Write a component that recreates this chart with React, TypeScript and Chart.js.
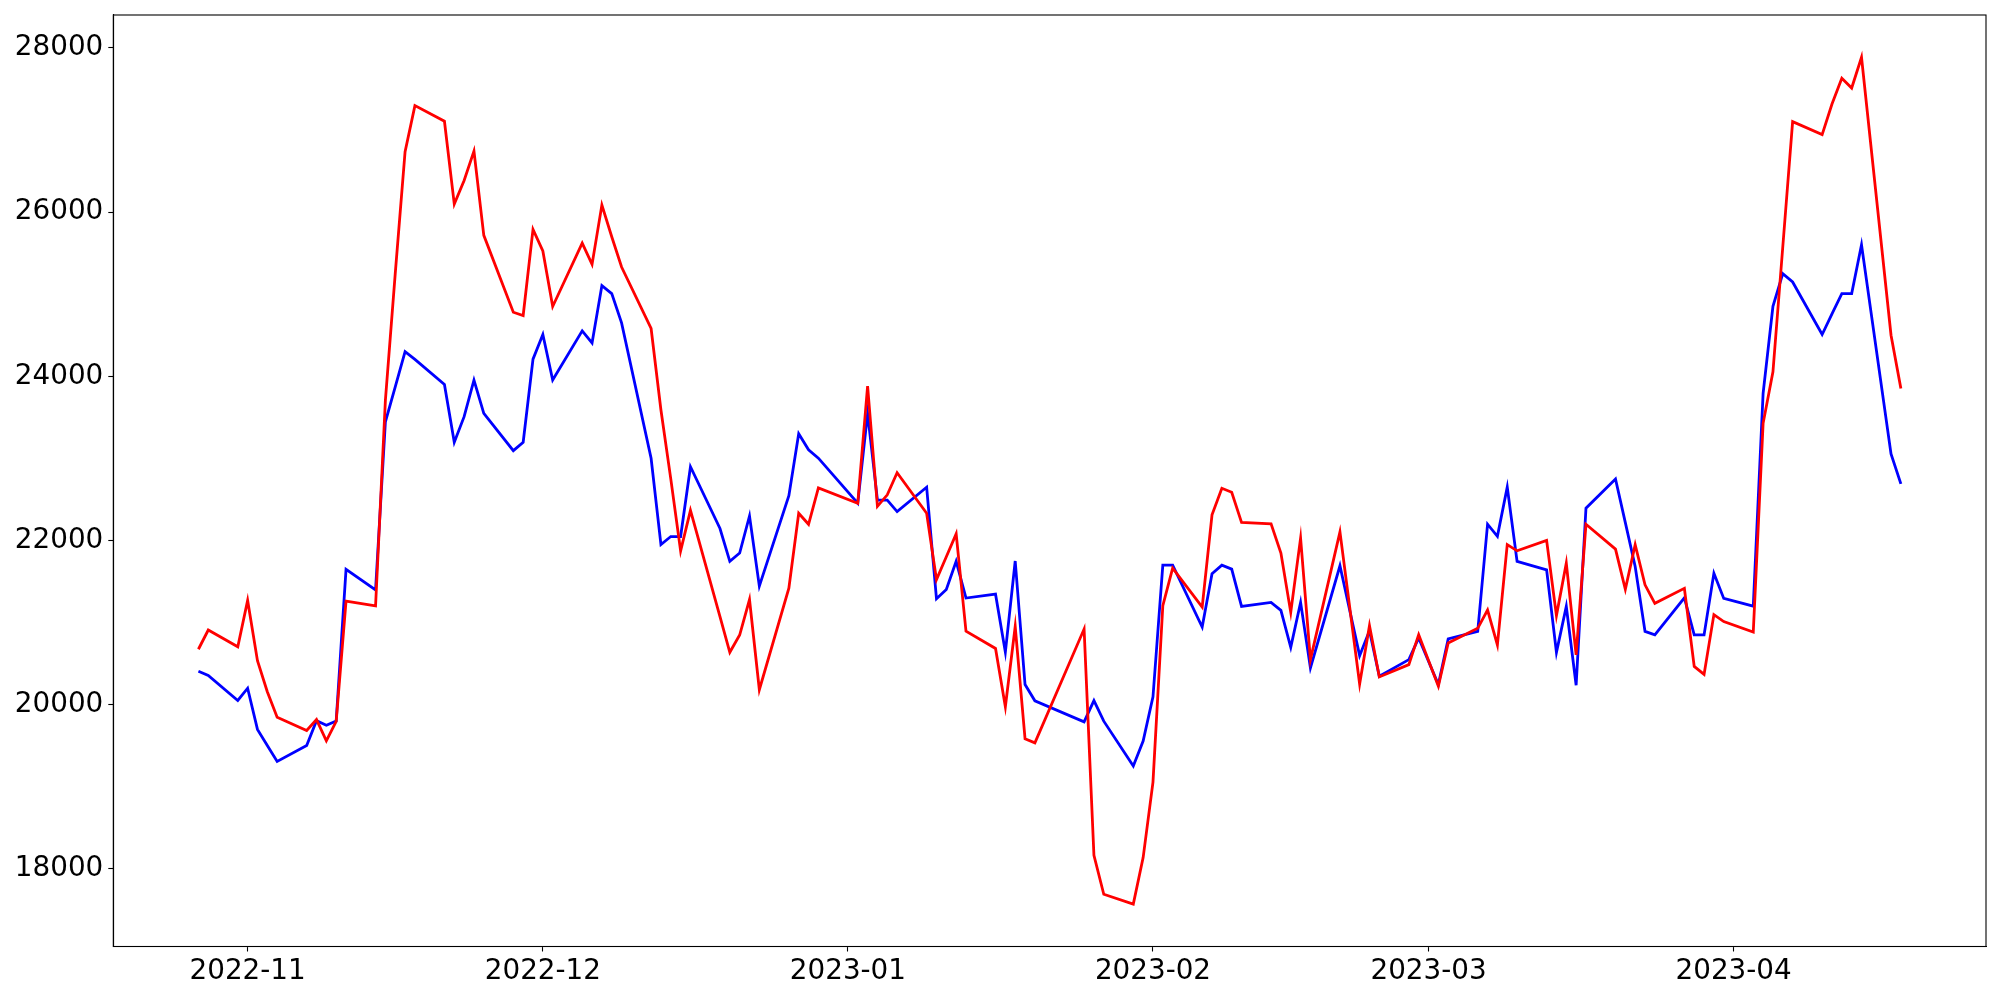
import React, { useEffect, useRef } from "react";
import { Chart, registerables } from "chart.js";

Chart.register(...registerables);

const dates: string[] = [
  "2022-10-27","2022-10-28","2022-10-31","2022-11-01","2022-11-02","2022-11-03","2022-11-04",
  "2022-11-07","2022-11-08","2022-11-09","2022-11-10","2022-11-11","2022-11-14","2022-11-15",
  "2022-11-16","2022-11-17","2022-11-18","2022-11-21","2022-11-22","2022-11-23","2022-11-24",
  "2022-11-25","2022-11-28","2022-11-29","2022-11-30","2022-12-01","2022-12-02","2022-12-05",
  "2022-12-06","2022-12-07","2022-12-08","2022-12-09","2022-12-12","2022-12-13","2022-12-14",
  "2022-12-15","2022-12-16","2022-12-19","2022-12-20","2022-12-21","2022-12-22","2022-12-23",
  "2022-12-26","2022-12-27","2022-12-28","2022-12-29","2023-01-02","2023-01-03","2023-01-04",
  "2023-01-05","2023-01-06","2023-01-09","2023-01-10","2023-01-11","2023-01-12","2023-01-13",
  "2023-01-16","2023-01-17","2023-01-18","2023-01-19","2023-01-20","2023-01-25","2023-01-26",
  "2023-01-27","2023-01-30","2023-01-31","2023-02-01","2023-02-02","2023-02-03","2023-02-06",
  "2023-02-07","2023-02-08","2023-02-09","2023-02-10","2023-02-13","2023-02-14","2023-02-15",
  "2023-02-16","2023-02-17","2023-02-20","2023-02-22","2023-02-23","2023-02-24","2023-02-27",
  "2023-02-28","2023-03-02","2023-03-03","2023-03-06","2023-03-07","2023-03-08","2023-03-09",
  "2023-03-10","2023-03-13","2023-03-14","2023-03-15","2023-03-16","2023-03-17","2023-03-20",
  "2023-03-21","2023-03-22","2023-03-23","2023-03-24","2023-03-27","2023-03-28","2023-03-29",
  "2023-03-30","2023-03-31","2023-04-03","2023-04-04","2023-04-05","2023-04-06","2023-04-07",
  "2023-04-10","2023-04-11","2023-04-12","2023-04-13","2023-04-14","2023-04-17","2023-04-18",
];

const redValues: number[] = [
  20675, 20909, 20705, 21270, 20535, 20157, 19847,
  19686, 19818, 19559, 19796, 21261, 21202, 23710,
  25250, 26735, 27297, 27107, 26098, 26385, 26742,
  25717, 24780, 24740, 25790, 25527, 24850, 25622,
  25363, 26085, 25700, 25331, 24582, 23589, 22750,
  21873, 22367, 21071, 20638, 20848, 21281, 20182,
  21420, 22332, 22197, 22640, 22453, 23881, 22416,
  22556, 22826, 22332, 21523, 21802, 22081, 20894,
  20685, 19975, 20952, 19584, 19535, 20921, 18165,
  17691, 17570, 18137, 19057, 21205, 21663, 21189,
  22312, 22636, 22588, 22219, 22203, 21846, 21124,
  22028, 20549, 22104, 20253, 20962, 20338, 20488,
  20853, 20225, 20752, 20930, 21153, 20728, 21950,
  21874, 22002, 21085, 21724, 20607, 22198, 21895,
  21405, 21950, 21460, 21234, 21417, 20466, 20368,
  21097, 21012, 20884, 23427, 24055, 25578, 27102,
  26944, 27317, 27629, 27511, 27885, 24500, 23852,
];

const blueValues: number[] = [
  20408, 20357, 20051, 20200, 19699, 19503, 19308,
  19503, 19805, 19750, 19801, 21648, 21397, 23446,
  23870, 24300, 24205, 23901, 23196, 23508, 23954,
  23548, 23094, 23196, 24209, 24509, 23954, 24553,
  24407, 25105, 25007, 24651, 23001, 21950, 22048,
  22048, 22898, 22146, 21745, 21847, 22298, 21444,
  22546, 23300, 23105, 23003, 22453, 23548, 22491,
  22491, 22351, 22649, 21290, 21402, 21746, 21299,
  21346, 20640, 21750, 20245, 20047, 19791, 20050,
  19799, 19252, 19556, 20095, 21700, 21700, 20946,
  21594, 21700, 21651, 21197, 21246, 21148, 20699,
  21246, 20447, 21692, 20597, 20901, 20346, 20549,
  20812, 20245, 20800, 20893, 22198, 22050, 22650,
  21746, 21643, 20637, 21196, 20236, 22394, 22749,
  22218, 21683, 20893, 20850, 21302, 20850, 20850,
  21601, 21294, 21200, 23791, 24853, 25250, 25149,
  24509, 24760, 25007, 25007, 25603, 23054, 22689,
];

const monthTicks: string[] = ["2022-11-01", "2022-12-01", "2023-01-01", "2023-02-01", "2023-03-01", "2023-04-01"];
const monthLabels: string[] = ["2022-11", "2022-12", "2023-01", "2023-02", "2023-03", "2023-04"];
const yTicks: number[] = [18000, 20000, 22000, 24000, 26000, 28000];

const toDay = (s: string): number => {
  const [y, m, d] = s.split("-").map(Number);
  return Date.UTC(y, m - 1, d) / 86400000;
};

const FONT = "'DejaVu Sans', sans-serif";

const boxPlugin = {
  id: "boxPlugin",
  afterDraw(chart: any) {
    const { ctx, chartArea } = chart;
    ctx.save();
    ctx.strokeStyle = "#000";
    ctx.lineWidth = 1.1;
    ctx.strokeRect(chartArea.left, chartArea.top, chartArea.right - chartArea.left, chartArea.bottom - chartArea.top);
    ctx.restore();
  },
};

export default function App() {
  const ref = useRef<HTMLCanvasElement | null>(null);

  useEffect(() => {
    if (!ref.current) return;
    const xs = dates.map(toDay);
    const allY = [...redValues, ...blueValues];
    const yMin = Math.min(...allY);
    const yMax = Math.max(...allY);
    const yPad = (yMax - yMin) * 0.05;
    const xMin = Math.min(...xs);
    const xMax = Math.max(...xs);
    const xPad = (xMax - xMin) * 0.05;
    const tickDays = monthTicks.map(toDay);

    const chart = new Chart(ref.current, {
      type: "line",
      data: {
        datasets: [
          {
            data: xs.map((x, i) => ({ x, y: redValues[i] })),
            borderColor: "#ff0000",
            borderWidth: 2.8,
            pointRadius: 0,
            tension: 0,
            fill: false,
          },
          {
            data: xs.map((x, i) => ({ x, y: blueValues[i] })),
            borderColor: "#0000ff",
            borderWidth: 2.8,
            pointRadius: 0,
            tension: 0,
            fill: false,
          },
        ],
      },
      options: {
        responsive: false,
        devicePixelRatio: 1,
        animation: false,
        layout: { padding: { top: 15, right: 14, left: 0, bottom: 0 } },
        plugins: { legend: { display: false }, tooltip: { enabled: false } },
        scales: {
          x: {
            type: "linear",
            min: xMin - xPad,
            max: xMax + xPad,
            afterBuildTicks: (scale: any) => {
              scale.ticks = tickDays.map((v) => ({ value: v }));
            },
            afterFit: (scale: any) => {
              scale.height = 53.5;
              scale.paddingLeft = 0;
              scale.paddingRight = 0;
            },
            grid: {
              display: true,
              drawOnChartArea: false,
              drawTicks: true,
              tickLength: 5,
              tickWidth: 1.1,
              tickColor: "#000",
            },
            border: { display: true, color: "#000", width: 1.1 },
            ticks: {
              autoSkip: false,
              maxRotation: 0,
              padding: 4,
              color: "#000",
              font: { family: FONT, size: 27.8 },
              callback: (value: any) => {
                const i = tickDays.indexOf(Number(value));
                return i >= 0 ? monthLabels[i] : "";
              },
            },
          },
          y: {
            type: "linear",
            min: yMin - yPad,
            max: yMax + yPad,
            afterBuildTicks: (scale: any) => {
              scale.ticks = yTicks.map((v) => ({ value: v }));
            },
            afterFit: (scale: any) => {
              scale.width = 113.3;
              scale.paddingTop = 0;
              scale.paddingBottom = 0;
            },
            grid: {
              display: true,
              drawOnChartArea: false,
              drawTicks: true,
              tickLength: 5,
              tickWidth: 1.1,
              tickColor: "#000",
            },
            border: { display: true, color: "#000", width: 1.1 },
            ticks: {
              autoSkip: false,
              padding: 5,
              color: "#000",
              font: { family: FONT, size: 27.8 },
              callback: (value: any) => String(value),
            },
          },
        },
      },
      plugins: [boxPlugin],
    });
    return () => chart.destroy();
  }, []);

  return (
    <div style={{ position: "fixed", left: 0, top: 0, width: 2000, height: 1000, background: "#fff" }}>
      <canvas ref={ref} width={2000} height={1000} style={{ display: "block", width: 2000, height: 1000 }} />
    </div>
  );
}
